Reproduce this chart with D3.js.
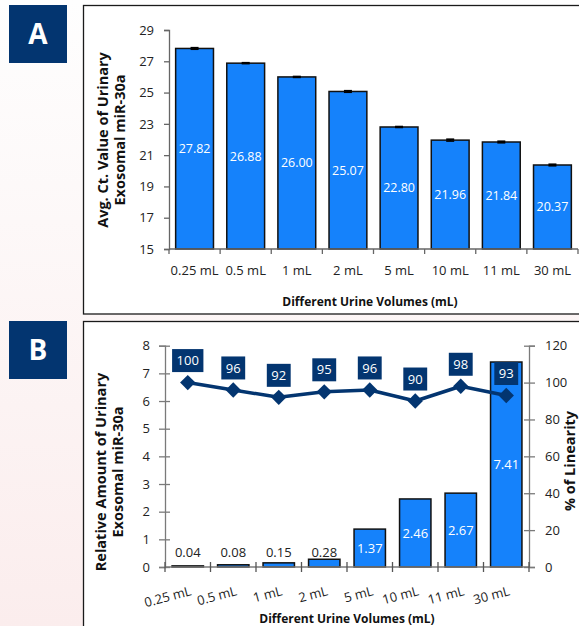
<!DOCTYPE html>
<html>
<head>
<meta charset="utf-8">
<script src="https://cdn.jsdelivr.net/npm/d3@7"></script>
<style>
  html, body { margin: 0; padding: 0; }
  body { width: 579px; height: 626px; overflow: hidden; }
  svg { display: block; font-family: "Open Sans", "DejaVu Sans", sans-serif; }
</style>
</head>
<body>
<svg id="chart" width="579" height="626"></svg>
<script>
// Urine volumes tested
const volumes = ["0.25 mL", "0.5 mL", "1 mL", "2 mL", "5 mL", "10 mL", "11 mL", "30 mL"];
// Panel A: average Ct value of urinary exosomal miR-30a
const ctValues = [27.82, 26.88, 26.00, 25.07, 22.80, 21.96, 21.84, 20.37];
const ctErrors = [0.05, 0.03, 0.03, 0.05, 0.03, 0.06, 0.05, 0.05];
const ctTicks = [15, 17, 19, 21, 23, 25, 27, 29];
// Panel B: relative amount and % of linearity
const relValues = [0.04, 0.08, 0.15, 0.28, 1.37, 2.46, 2.67, 7.41];
const linearity = [100, 96, 92, 95, 96, 90, 98, 93];
const relTicks = [0, 1, 2, 3, 4, 5, 6, 7, 8];
const linTicks = [0, 20, 40, 60, 80, 100, 120];

const NAVY = "#033570";
const BLUE = "#1582fb";

const svg = d3.select("#chart");

// page background: faint vertical pink wash
const defs = svg.append("defs");
const grad = defs.append("linearGradient").attr("id", "bg").attr("x1", 0).attr("y1", 0).attr("x2", 0).attr("y2", 1);
grad.append("stop").attr("offset", "0%").attr("stop-color", "#fefefe");
grad.append("stop").attr("offset", "100%").attr("stop-color", "#fbeded");
svg.append("rect").attr("width", 579).attr("height", 626).attr("fill", "url(#bg)");

// panel frames
svg.append("rect").attr("x", 83.5).attr("y", 5.5).attr("width", 510).attr("height", 308.5)
  .attr("fill", "#fff").attr("stroke", "#1a1a1a").attr("stroke-width", 1.3);
svg.append("rect").attr("x", 83.5).attr("y", 321.5).attr("width", 510).attr("height", 320)
  .attr("fill", "#fff").attr("stroke", "#1a1a1a").attr("stroke-width", 1.3);

// panel letters
[["A", 5], ["B", 321]].forEach(([t, y]) => {
  svg.append("rect").attr("x", 9).attr("y", y).attr("width", 58).attr("height", 58).attr("fill", NAVY);
  svg.append("text").attr("x", 38).attr("y", y + 29).attr("dy", "0.36em")
    .attr("text-anchor", "middle").attr("fill", "#fff")
    .attr("font-size", 28).attr("font-weight", "bold").text(t);
});

// ---------------- Panel A ----------------
const xA = d3.scaleBand().domain(volumes).range([169, 578]).paddingInner(0.26).paddingOuter(0.13);
const yA = d3.scaleLinear().domain([15, 29]).range([249, 30]);
const gA = svg.append("g");

gA.selectAll("rect.bar").data(ctValues).join("rect").attr("class", "bar")
  .attr("x", (d, i) => xA(volumes[i])).attr("width", xA.bandwidth())
  .attr("y", d => yA(d)).attr("height", d => yA(15) - yA(d))
  .attr("fill", BLUE).attr("stroke", "#111").attr("stroke-width", 1.5);

// error bars
gA.selectAll("g.err").data(ctValues).join("g").attr("class", "err").each(function (d, i) {
  const cx = xA(volumes[i]) + xA.bandwidth() / 2;
  const g = d3.select(this);
  const top = yA(d + ctErrors[i]), bot = yA(d - ctErrors[i]);
  g.append("line").attr("x1", cx).attr("x2", cx).attr("y1", top).attr("y2", bot).attr("stroke", "#000").attr("stroke-width", 1.2);
  [top, bot].forEach(y => g.append("line").attr("x1", cx - 4).attr("x2", cx + 4).attr("y1", y).attr("y2", y)
    .attr("stroke", "#000").attr("stroke-width", 1.6));
});

gA.selectAll("text.val").data(ctValues).join("text").attr("class", "val")
  .attr("x", (d, i) => xA(volumes[i]) + xA.bandwidth() / 2)
  .attr("y", d => (yA(d) + yA(15)) / 2).attr("dy", "0.36em")
  .attr("text-anchor", "middle").attr("fill", "#fff").attr("font-size", 12.5)
  .text(d => d.toFixed(2));

// y axis A
const axA = gA.append("g").attr("transform", "translate(169,0)")
  .call(d3.axisLeft(yA).tickValues(ctTicks).tickSize(5).tickPadding(10).tickFormat(d3.format("d")));
axA.selectAll("path,line").attr("stroke", "#666").attr("stroke-width", 1.3);
axA.selectAll("text").attr("font-size", 13).attr("fill", "#222").attr("font-family", "Open Sans");

// x axis A
gA.append("line").attr("x1", 169).attr("x2", 578).attr("y1", 249).attr("y2", 249).attr("stroke", "#666").attr("stroke-width", 1.3);
const stepA = xA.step();
const x0A = xA(volumes[0]) - stepA * xA.paddingInner() / 2;
gA.selectAll("line.xt").data(d3.range(volumes.length + 1)).join("line").attr("class", "xt")
  .attr("x1", i => x0A + i * stepA).attr("x2", i => x0A + i * stepA)
  .attr("y1", 249).attr("y2", 254).attr("stroke", "#666").attr("stroke-width", 1.3);
gA.selectAll("text.xl").data(volumes).join("text").attr("class", "xl")
  .attr("x", d => xA(d) + xA.bandwidth() / 2).attr("y", 270).attr("dy", "0.36em")
  .attr("text-anchor", "middle").attr("font-size", 13).attr("fill", "#222").text(d => d);

gA.append("text").attr("x", 370).attr("y", 302).attr("dy", "0.36em").attr("text-anchor", "middle")
  .attr("font-size", 12).attr("font-weight", "bold").attr("fill", "#111").text("Different Urine Volumes (mL)");
const tA = gA.append("text").attr("transform", "translate(103,140) rotate(-90)")
  .attr("text-anchor", "middle").attr("font-size", 14.5).attr("font-weight", "bold").attr("fill", "#111");
tA.append("tspan").attr("x", 0).attr("dy", "0.36em").text("Avg. Ct. Value of Urinary");
tA.append("tspan").attr("x", 0).attr("dy", 17).text("Exosomal miR-30a");

// ---------------- Panel B ----------------
const xB = d3.scaleBand().domain(volumes).range([165, 529]).paddingInner(0.31).paddingOuter(0.155);
const yB = d3.scaleLinear().domain([0, 8]).range([567, 345.7]);
const yL = d3.scaleLinear().domain([0, 120]).range([567, 345.7]);
const gB = svg.append("g");

gB.selectAll("rect.bar").data(relValues).join("rect").attr("class", "bar")
  .attr("x", (d, i) => xB(volumes[i])).attr("width", xB.bandwidth())
  .attr("y", d => yB(d)).attr("height", d => yB(0) - yB(d))
  .attr("fill", BLUE).attr("stroke", "#111").attr("stroke-width", 1.5);

// value labels: small bars labelled above in black, larger ones inside in white
gB.selectAll("text.val").data(relValues).join("text").attr("class", "val")
  .attr("x", (d, i) => xB(volumes[i]) + xB.bandwidth() / 2)
  .attr("y", d => d < 1 ? yB(0) - 15 : (yB(d) + yB(0)) / 2).attr("dy", "0.36em")
  .attr("text-anchor", "middle").attr("font-size", 13)
  .attr("fill", d => d < 1 ? "#222" : "#fff").text(d => d.toFixed(2));

// left axis
const axBL = gB.append("g").attr("transform", "translate(165,0)")
  .call(d3.axisLeft(yB).tickValues(relTicks).tickSize(6).tickPadding(9).tickFormat(d3.format("d")));
axBL.selectAll("line").attr("x1", 5);
axBL.selectAll("path,line").attr("stroke", "#7a7a7a").attr("stroke-width", 1.3);
axBL.selectAll("text").attr("font-size", 13).attr("fill", "#222").attr("font-family", "Open Sans");

// right axis
const axBR = gB.append("g").attr("transform", "translate(529,0)")
  .call(d3.axisRight(yL).tickValues(linTicks).tickSize(6).tickPadding(10).tickFormat(d3.format("d")));
axBR.selectAll("line").attr("x1", -5);
axBR.selectAll("path,line").attr("stroke", "#7a7a7a").attr("stroke-width", 1.3);
axBR.selectAll("text").attr("font-size", 13).attr("fill", "#222").attr("font-family", "Open Sans");

// x axis B
gB.append("line").attr("x1", 165).attr("x2", 529).attr("y1", 567).attr("y2", 567).attr("stroke", "#7a7a7a").attr("stroke-width", 1.3);
const stepB = xB.step();
const x0B = xB(volumes[0]) - stepB * xB.paddingInner() / 2;
gB.selectAll("line.xt").data(d3.range(volumes.length + 1)).join("line").attr("class", "xt")
  .attr("x1", i => x0B + i * stepB).attr("x2", i => x0B + i * stepB)
  .attr("y1", 562).attr("y2", 572).attr("stroke", "#555").attr("stroke-width", 1.3);
gB.selectAll("text.xl").data(volumes).join("text").attr("class", "xl")
  .attr("transform", d => `translate(${xB(d) + xB.bandwidth() / 2 + 2},586) rotate(-15)`)
  .attr("dy", "0.71em").attr("text-anchor", "end").attr("font-size", 13).attr("fill", "#222").text(d => d);

// linearity line
const cxB = (d, i) => xB(volumes[i]) + xB.bandwidth() / 2;
gB.append("path").datum(linearity)
  .attr("d", d3.line().x(cxB).y(d => yL(d)))
  .attr("fill", "none").attr("stroke", NAVY).attr("stroke-width", 3.5).attr("stroke-linejoin", "round");
gB.selectAll("path.pt").data(linearity).join("path").attr("class", "pt")
  .attr("d", d3.symbol(d3.symbolDiamond2, 150))
  .attr("transform", (d, i) => `translate(${cxB(d, i)},${yL(d)})`)
  .attr("fill", NAVY);

// linearity labels in navy boxes
gB.selectAll("g.ll").data(linearity).join("g").attr("class", "ll").each(function (d, i) {
  const g = d3.select(this);
  const cx = cxB(d, i), cy = yL(d) - 22;
  const t = g.append("text").attr("x", cx).attr("y", cy).attr("dy", "0.36em")
    .attr("text-anchor", "middle").attr("font-size", 13).attr("fill", "#fff").text(d);
  const w = t.node().getComputedTextLength() + 9;
  g.insert("rect", "text").attr("x", cx - w / 2).attr("y", cy - 11.5).attr("width", w).attr("height", 23).attr("fill", NAVY);
});

gB.append("text").attr("x", 347).attr("y", 619).attr("dy", "0.36em").attr("text-anchor", "middle")
  .attr("font-size", 12).attr("font-weight", "bold").attr("fill", "#111").text("Different Urine Volumes (mL)");
const tB = gB.append("text").attr("transform", "translate(101,472) rotate(-90)")
  .attr("text-anchor", "middle").attr("font-size", 14.5).attr("font-weight", "bold").attr("fill", "#111");
tB.append("tspan").attr("x", 0).attr("dy", "0.36em").text("Relative Amount of Urinary");
tB.append("tspan").attr("x", 0).attr("dy", 17).text("Exosomal miR-30a");
gB.append("text").attr("transform", "translate(570,461) rotate(-90)").attr("dy", "0.36em")
  .attr("text-anchor", "middle").attr("font-size", 14.5).attr("font-weight", "bold").attr("fill", "#111").text("% of Linearity");
</script>
</body>
</html>
